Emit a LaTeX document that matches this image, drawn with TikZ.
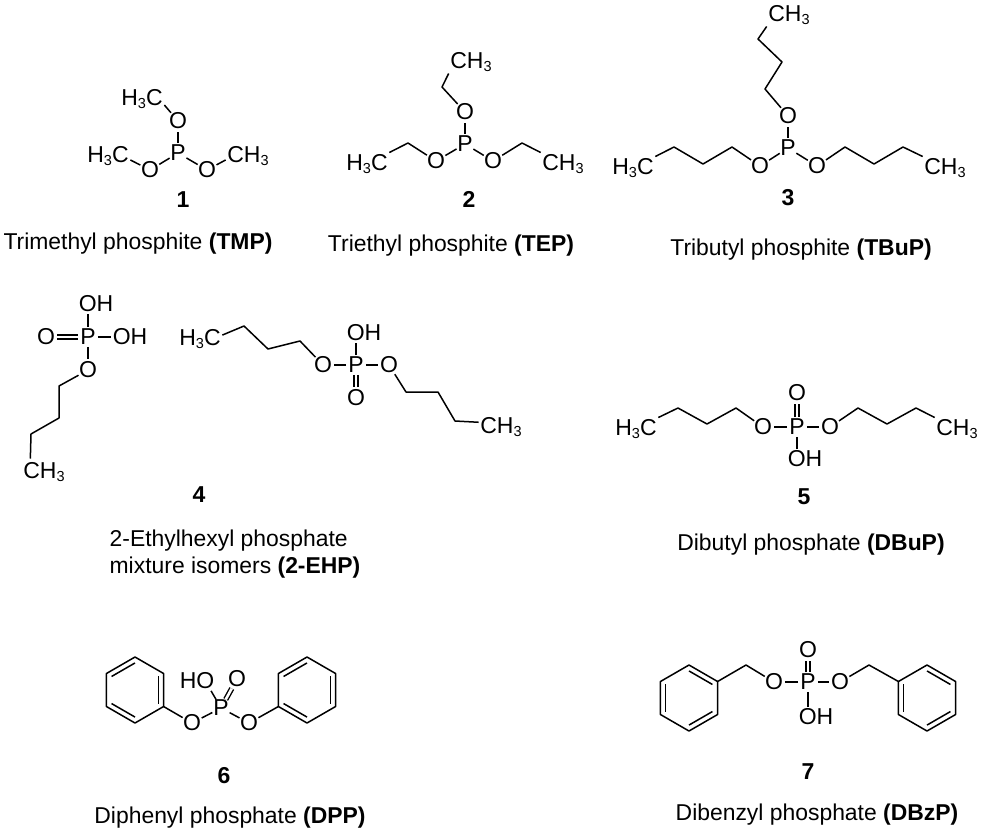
\documentclass[tikz,border=0pt]{standalone}
\usepackage{fontspec}
\setmainfont{Liberation Sans}
\usepackage{tikz}
\usetikzlibrary{calc}

\newcommand{\atomsub}[1]{\raisebox{-.28ex}{\fontsize{14.5}{15}\selectfont #1}}
\newcommand{\benzring}[3]{%
  \coordinate (#1) at (#2);
  \foreach \k in {1,...,6} \coordinate (#1\k) at ($(#1)+({60*\k-30}:33)$);
  \draw[bond] (#11) -- (#12) -- (#13) -- (#14) -- (#15) -- (#16) -- cycle;
  \foreach \k/\m in {#3} \draw[bond] ($(#1\k)!.18!(#1)$) -- ($(#1\m)!.18!(#1)$);
}

\tikzset{
  atom/.style={circle,inner sep=-1pt,font=\fontsize{23}{27}\selectfont},
  grp/.style={inner sep=1.5pt,font=\fontsize{23}{27}\selectfont},
  numtext/.style={inner sep=0pt,font=\fontsize{23}{27}\selectfont\bfseries},
  captext/.style={inner sep=0pt,align=left,font=\fontsize{22.9}{27}\selectfont},
  bond/.style={line width=1.5pt,line join=round},
  dbl/.style={line width=1.4pt,double,double distance=2.6pt}
}

\begin{document}
\begin{tikzpicture}[x=1pt,y=-1pt]
  \useasboundingbox (0,0) rectangle (981,831);

  %1
  \node[atom] (p1) at (178,153) {P};
  \node[atom] (o1a) at (178,121) {O};
  \node[atom] (o1b) at (150,170) {O};
  \node[atom] (o1c) at (207,170) {O};
  \node[grp] (c1a) at (142,99) {H\atomsub{3}C};
  \node[grp] (c1b) at (108,156) {H\atomsub{3}C};
  \node[grp] (c1c) at (248,156) {CH\atomsub{3}};
  \node[numtext] (n1) at (183,200) {1};
  \node[captext] (t1) at (138,243.5) {Trimethyl phosphite \textbf{(TMP)}};
  \draw[bond] (p1) -- (o1a);
  \draw[bond] (p1) -- (o1b);
  \draw[bond] (p1) -- (o1c);
  \draw[bond] (c1a.-15) -- (o1a);
  \draw[bond] (c1b.-10) -- (o1b);
  \draw[bond] (c1c.190) -- (o1c);

  %2
  \node[atom] (p2) at (465,144) {P};
  \node[atom] (o2a) at (465,112) {O};
  \node[atom] (o2b) at (436,161) {O};
  \node[atom] (o2c) at (493,161) {O};
  \node[grp] (c2a) at (471,62) {CH\atomsub{3}};
  \node[grp] (c2b) at (367,164) {H\atomsub{3}C};
  \node[grp] (c2c) at (563,164) {CH\atomsub{3}};
  \coordinate (v2a) at (442,87);
  \coordinate (v2b) at (408,143);
  \coordinate (v2c) at (522,143);
  \node[numtext] (n2) at (469,199) {2};
  \node[captext] (t2) at (451,245.5) {Triethyl phosphite \textbf{(TEP)}};
  \draw[bond] (p2) -- (o2a);
  \draw[bond] (p2) -- (o2b);
  \draw[bond] (p2) -- (o2c);
  \draw[bond] (c2a.south west) -- (v2a) -- (o2a);
  \draw[bond] (c2b.north east) -- (v2b) -- (o2b);
  \draw[bond] (c2c.north west) -- (v2c) -- (o2c);

  %3
  \node[atom] (p3) at (788,148) {P};
  \node[atom] (o3a) at (788,116) {O};
  \node[atom] (o3b) at (760,166) {O};
  \node[atom] (o3c) at (817,166) {O};
  \node[grp] (c3a) at (789,15) {CH\atomsub{3}};
  \node[grp] (c3b) at (633,168) {H\atomsub{3}C};
  \node[grp] (c3c) at (945,168) {CH\atomsub{3}};
  \coordinate (v3a) at (758,39);
  \coordinate (v3b) at (782,62);
  \coordinate (v3c) at (765,89);
  \coordinate (v3d) at (674,147);
  \coordinate (v3e) at (703,164);
  \coordinate (v3f) at (732,147);
  \coordinate (v3g) at (845,147);
  \coordinate (v3h) at (874,164);
  \coordinate (v3i) at (903,147);
  \node[numtext] (n3) at (788,198) {3};
  \node[captext] (t3) at (801,249.5) {Tributyl phosphite \textbf{(TBuP)}};
  \draw[bond] (p3) -- (o3a);
  \draw[bond] (p3) -- (o3b);
  \draw[bond] (p3) -- (o3c);
  \draw[bond] (c3a.south west) -- (v3a) -- (v3b) -- (v3c) -- (o3a);
  \draw[bond] (c3b.north east) -- (v3d) -- (v3e) -- (v3f) -- (o3b);
  \draw[bond] (c3c.north west) -- (v3i) -- (v3h) -- (v3g) -- (o3c);

  %4 left
  \node[atom] (p4) at (88,337) {P};
  \node[atom] (o4a) at (46,337) {O};
  \node[atom] (o4b) at (88,370) {O};
  \node[grp] (h4a) at (96,304) {OH};
  \node[grp] (h4b) at (130,337) {OH};
  \node[grp] (c4a) at (44,472) {CH\atomsub{3}};
  \coordinate (v4a) at (59,386);
  \coordinate (v4b) at (59,418);
  \coordinate (v4c) at (31,434);
  \draw[dbl] (p4) -- (o4a);
  \draw[bond] (p4) -- (p4 |- h4a.south);
  \draw[bond] (p4) -- (h4b.west);
  \draw[bond] (p4) -- (o4b);
  \draw[bond,shorten >=2pt] (o4b) -- (v4a) -- (v4b) -- (v4c) -- (c4a.140);

  %4 right
  \node[atom] (p5) at (356,365) {P};
  \node[atom] (o5a) at (323,365) {O};
  \node[atom] (o5b) at (389,365) {O};
  \node[atom] (o5c) at (356,398) {O};
  \node[grp] (h5a) at (364,333) {OH};
  \node[grp] (c5a) at (200,339) {H\atomsub{3}C};
  \node[grp] (c5b) at (501,427) {CH\atomsub{3}};
  \coordinate (v5a) at (244,326);
  \coordinate (v5b) at (268,349);
  \coordinate (v5c) at (300,341);
  \coordinate (v5d) at (406,392);
  \coordinate (v5e) at (438,392);
  \coordinate (v5f) at (455,421);
  \node[numtext] (n4) at (199,495) {4};
  \node[captext] (t4) at (235,554) {2-Ethylhexyl phosphate\\mixture isomers \textbf{(2-EHP)}};
  \draw[bond] (p5) -- (o5a);
  \draw[bond] (p5) -- (o5b);
  \draw[dbl] (p5) -- (o5c);
  \draw[bond] (p5) -- (p5 |- h5a.south);
  \draw[bond] (c5a.10) -- (v5a) -- (v5b) -- (v5c) -- (o5a);
  \draw[bond] (o5b) -- (v5d) -- (v5e) -- (v5f) -- (c5b.168);

  %5
  \node[atom] (p6) at (797,427) {P};
  \node[atom] (o6a) at (797,393) {O};
  \node[atom] (o6b) at (763,427) {O};
  \node[atom] (o6c) at (830,427) {O};
  \node[grp] (h6a) at (805,459) {OH};
  \node[grp] (c6a) at (636,429) {H\atomsub{3}C};
  \node[grp] (c6b) at (957,429) {CH\atomsub{3}};
  \coordinate (v6a) at (678,408);
  \coordinate (v6b) at (707,424);
  \coordinate (v6c) at (736,408);
  \coordinate (v6d) at (858,408);
  \coordinate (v6e) at (887,424);
  \coordinate (v6f) at (916,408);
  \node[numtext] (n5) at (804,497) {5};
  \node[captext] (t5) at (811,544.5) {Dibutyl phosphate \textbf{(DBuP)}};
  \draw[dbl] (p6) -- (o6a);
  \draw[bond] (p6) -- (o6b);
  \draw[bond] (p6) -- (o6c);
  \draw[bond] (p6) -- (p6 |- h6a.north);
  \draw[bond] (c6a.north east) -- (v6a) -- (v6b) -- (v6c) -- (o6b);
  \draw[bond] (c6b.north west) -- (v6f) -- (v6e) -- (v6d) -- (o6c);

  %6
  \benzring{ra}{135,690}{4/5,6/1,2/3}
  \benzring{rb}{307,690}{4/5,6/1,2/3}
  \node[atom] (p7) at (221,708) {P};
  \node[atom] (o7a) at (192,723) {O};
  \node[atom] (o7b) at (249,723) {O};
  \node[atom] (o7c) at (237,679) {O};
  \node[grp] (h7a) at (197,681) {HO};
  \node[numtext] (n6) at (224,776) {6};
  \node[captext] (t6) at (230,817.5) {Diphenyl phosphate \textbf{(DPP)}};
  \draw[bond] (p7) -- (o7a);
  \draw[bond] (p7) -- (o7b);
  \draw[dbl] (p7) -- (o7c);
  \draw[bond] (p7) -- (h7a.-35);
  \draw[bond] (ra1) -- (o7a);
  \draw[bond] (rb3) -- (o7b);

  %7
  \benzring{rc}{689,698}{5/6,3/4,1/2}
  \benzring{rd}{927,698}{5/6,3/4,1/2}
  \node[atom] (p8) at (808,682) {P};
  \node[atom] (o8a) at (808,650) {O};
  \node[atom] (o8b) at (774,682) {O};
  \node[atom] (o8c) at (840,682) {O};
  \node[grp] (h8a) at (816,717) {OH};
  \coordinate (v8a) at (746,665);
  \coordinate (v8b) at (869,665);
  \node[numtext] (n7) at (808,772) {7};
  \node[captext] (t7) at (817,814.5) {Dibenzyl phosphate \textbf{(DBzP)}};
  \draw[dbl] (p8) -- (o8a);
  \draw[bond] (p8) -- (o8b);
  \draw[bond] (p8) -- (o8c);
  \draw[bond] (p8) -- (p8 |- h8a.north);
  \draw[bond] (rc6) -- (v8a) -- (o8b);
  \draw[bond] (rd4) -- (v8b) -- (o8c);
\end{tikzpicture}
\end{document}
